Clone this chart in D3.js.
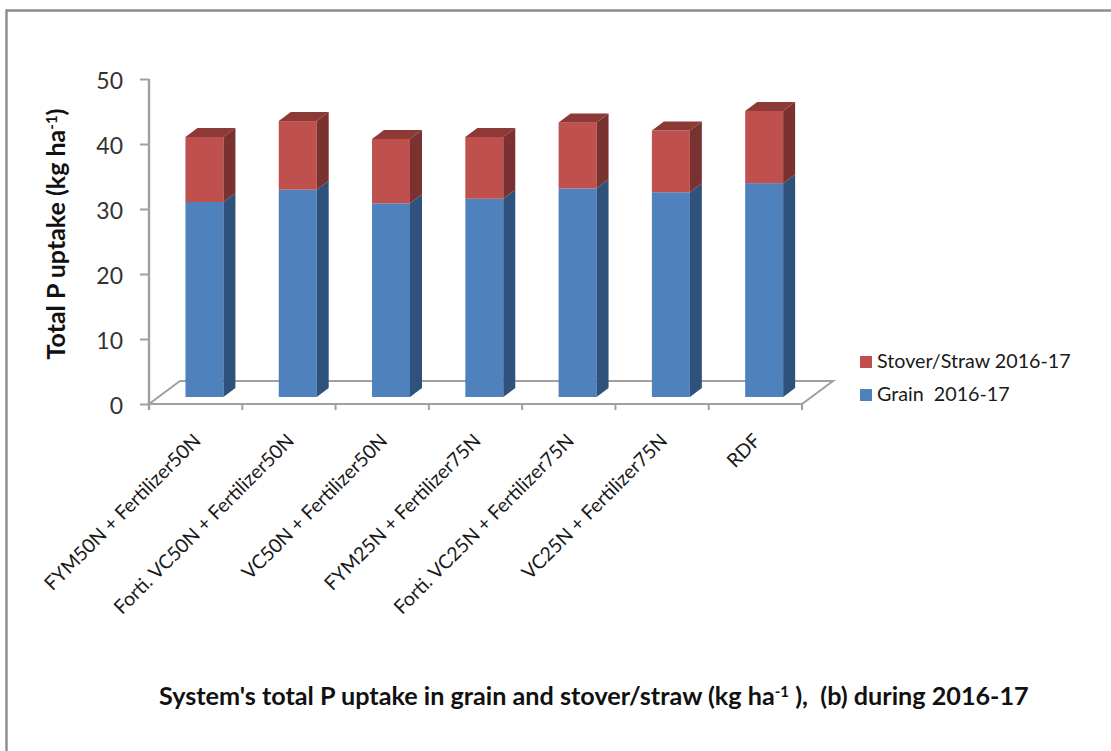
<!DOCTYPE html>
<html><head><meta charset="utf-8">
<script src="https://cdn.jsdelivr.net/npm/d3@7"></script>
<style>html,body{margin:0;padding:0;background:#fff}svg{display:block}</style>
</head><body>
<svg id="c" width="1111" height="751"></svg>
<script>
const categories = ["FYM50N + Fertilizer50N","Forti. VC50N + Fertilizer50N","VC50N + Fertilizer50N","FYM25N + Fertilizer75N","Forti. VC25N + Fertilizer75N","VC25N + Fertilizer75N","RDF"];
const grain = [30.0,31.9,29.8,30.5,32.1,31.5,32.9];
const stover = [10.0,10.55,9.9,9.5,10.15,9.5,11.1];
const yTicks = [0,10,20,30,40,50];
const seriesNames = ["Stover/Straw 2016-17","Grain  2016-17"];

const font = "Lato, 'Open Sans', sans-serif";
const svg = d3.select("#c");
const axisCol = "#a0a0a0";
svg.append("path").attr("d","M6.5,751V10.5H1111").attr("fill","none").attr("stroke","#8c8c8c").attr("stroke-width",2.4);

const y = d3.scaleLinear().domain([0,50]).range([404,79]);
const x = d3.scaleBand().domain(categories).range([149,802]).paddingInner(0.593).paddingOuter(0.2965);
const xEdge = d3.scaleLinear().domain([0,categories.length]).range([149,802]);
const depth = {dx:31,dy:-23};
const barShift = {dx:8.8,dy:-7};
const side = {dx:12,dy:-9};

// floor
svg.append("path").attr("fill","none").attr("stroke",axisCol).attr("stroke-width",2)
  .attr("d",`M${xEdge(0)},${y(0)}L${xEdge(0)+depth.dx},${y(0)+depth.dy}H${xEdge(7)+depth.dx}L${xEdge(7)},${y(0)}H${xEdge(0)}`);
// y axis
const ga = svg.append("g").attr("transform","translate(149,0)")
  .call(d3.axisLeft(y).tickValues(yTicks).tickSize(9).tickPadding(17));
ga.select(".domain").attr("stroke",axisCol).attr("stroke-width",2.4).attr("d",`M0,${y(50)}V${y(0)+6}`);
ga.selectAll("line").attr("stroke",axisCol).attr("stroke-width",2);
ga.selectAll("text").attr("font-family",font).attr("font-size",23).attr("fill","#333").attr("dy","0.4em");
// x ticks
svg.append("g").selectAll("line").data(d3.range(8)).join("line")
  .attr("x1",d=>xEdge(d)).attr("x2",d=>xEdge(d)).attr("y1",y(0)).attr("y2",y(0)+6)
  .attr("stroke",axisCol).attr("stroke-width",2);

// 3D bars
function bar(g,cat,v0,v1,front,sideCol,top){
  const l=x(cat)+barShift.dx, r=l+x.bandwidth();
  const y0=y(v0)+barShift.dy, y1=y(v1)+barShift.dy;
  g.append("rect").attr("x",l).attr("y",y1).attr("width",r-l).attr("height",y0-y1).attr("fill",front);
  g.append("path").attr("fill",sideCol).attr("d",`M${r},${y0}L${r+side.dx},${y0+side.dy}V${y1+side.dy}L${r},${y1}Z`);
  if(top) g.append("path").attr("fill",top).attr("d",`M${l},${y1}L${l+side.dx},${y1+side.dy}H${r+side.dx}L${r},${y1}Z`);
}
const gb = svg.append("g");
categories.forEach((c,i)=>{
  bar(gb,c,0,grain[i],"#4f81bd","#2f527c",null);
  bar(gb,c,grain[i],grain[i]+stover[i],"#c0504d","#7a3230","#8d3936");
});

// x labels
svg.append("g").selectAll("text").data(categories).join("text")
  .attr("transform",(d,i)=>`translate(${xEdge(i)+53},442) rotate(-45)`)
  .attr("text-anchor","end").attr("font-family",font).attr("font-size",19.4).attr("fill","#1a1a1a").text(d=>d);

// y title
const yt = svg.append("text").attr("transform","translate(65,234) rotate(-90)").attr("text-anchor","middle")
  .attr("font-family",font).attr("font-weight",700).attr("font-size",25).attr("fill","#111");
yt.append("tspan").text("Total P uptake (kg ha");
yt.append("tspan").text("-1").attr("font-size",15).attr("dy",-8);
yt.append("tspan").text(")").attr("dy",8);

// legend
const legCol=["#c0504d","#4f81bd"];
const lg = svg.append("g").selectAll("g").data(seriesNames).join("g")
  .attr("transform",(d,i)=>`translate(860,${361+i*33})`);
lg.append("rect").attr("x",0).attr("y",-5).attr("width",12).attr("height",12).attr("fill",(d,i)=>legCol[i]);
lg.append("text").attr("x",17).attr("y",7).style("white-space","pre")
  .attr("font-family",font).attr("font-size",19.7).attr("fill","#1a1a1a").text(d=>d);

// caption
const cap = svg.append("text").attr("x",159).attr("y",705).attr("font-family",font).attr("font-weight",700).attr("font-size",25.2).attr("fill","#111").style("white-space","pre");
cap.append("tspan").text("System's total P uptake in grain and stover/straw (kg ha");
cap.append("tspan").text("-1").attr("font-size",15).attr("dy",-8);
cap.append("tspan").text(" ),  (b) during 2016-17").attr("dy",8);
</script>
</body></html>
